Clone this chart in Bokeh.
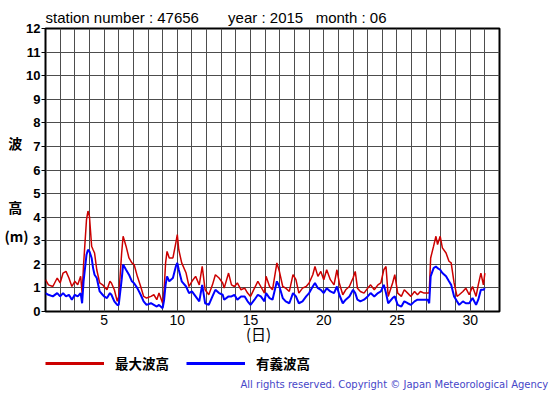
from bokeh.plotting import figure
from bokeh.models import Range1d, FixedTicker, Legend, LegendItem, LinearAxis, Label
from bokeh.layouts import column
from bokeh.embed import file_html
from bokeh.resources import INLINE
import numpy as np

# --- data ---
days = [1.0, 1.2, 1.5, 1.8, 2.0, 2.2, 2.4, 2.6, 2.8, 3.0, 3.2, 3.4, 3.5, 3.6, 3.8, 3.9, 4.0,
        4.15, 4.25, 4.35, 4.5, 4.7, 4.9, 5.0, 5.2, 5.4, 5.5, 5.7, 5.9, 6.0, 6.2, 6.3, 6.5,
        6.7, 6.9, 7.05, 7.27, 7.5, 7.7, 7.9, 8.2, 8.4, 8.6, 8.75, 9.0, 9.1, 9.2, 9.3, 9.45,
        9.7, 9.9, 10.0, 10.1, 10.3, 10.6, 10.8, 11.0, 11.25, 11.5, 11.7, 11.9, 12.15, 12.4,
        12.6, 12.85, 13.1, 13.2, 13.5, 13.7, 13.9, 14.1, 14.35, 14.6, 14.8, 15.0, 15.27,
        15.5, 15.7, 15.95, 16.06, 16.3, 16.5, 16.8, 16.97, 17.2, 17.4, 17.65, 17.9, 18.1,
        18.3, 18.55, 18.8, 19.0, 19.25, 19.4, 19.6, 19.8, 20.0, 20.2, 20.45, 20.7, 20.9,
        21.06, 21.3, 21.5, 21.75, 22.0, 22.15, 22.3, 22.5, 22.75, 23.0, 23.2, 23.45, 23.7,
        23.9, 24.1, 24.25, 24.4, 24.7, 24.85, 25.05, 25.3, 25.5, 25.73, 25.95, 26.2, 26.4,
        26.6, 26.85, 27.1, 27.2, 27.3, 27.5, 27.66, 27.77, 27.95, 28.1, 28.35, 28.55, 28.7,
        28.9, 29.1, 29.25, 29.5, 29.7, 29.93, 30.16, 30.4, 30.55, 30.73, 30.9, 31.0]

max_wave = [1.35, 1.13, 1.06, 1.42, 1.21, 1.63, 1.70, 1.42, 1.06, 1.28, 1.13, 1.49, 0.78, 1.99,
            3.90, 4.26, 4.04, 2.77, 2.62, 2.48, 1.77, 1.21, 1.13, 1.06, 0.92, 1.28, 1.21, 0.92,
            0.43, 0.64, 2.48, 3.19, 2.77, 2.27, 2.06, 1.99, 1.49, 1.06, 0.64, 0.57, 0.64, 0.71,
            0.50, 0.78, 0.35, 0.92, 2.06, 2.55, 2.27, 2.27, 2.91, 3.26, 2.62, 2.06, 1.63, 1.06,
            1.28, 1.49, 1.13, 1.91, 0.92, 0.71, 1.13, 1.56, 1.42, 1.21, 0.99, 1.63, 1.13, 1.06,
            1.21, 0.92, 0.99, 0.78, 0.64, 0.99, 1.28, 1.06, 0.78, 1.49, 1.06, 0.92, 2.06, 1.70,
            1.06, 0.99, 0.85, 1.56, 1.35, 0.78, 0.99, 1.06, 1.21, 1.56, 1.91, 1.49, 1.70, 1.35,
            1.77, 1.35, 1.13, 1.77, 1.21, 0.71, 0.92, 1.06, 1.42, 1.70, 0.99, 0.85, 0.78, 0.99,
            1.13, 0.92, 1.13, 1.21, 1.77, 1.91, 0.64, 1.21, 1.56, 0.78, 0.64, 0.92, 0.78, 0.64,
            0.85, 0.71, 0.85, 0.78, 0.78, 0.78, 2.27, 2.77, 3.19, 2.84, 3.19, 2.70, 2.48, 2.13,
            2.06, 1.21, 0.64, 0.71, 0.85, 0.99, 0.71, 1.06, 0.64, 1.13, 1.63, 1.13, 1.63]

sig_wave = [0.78, 0.71, 0.64, 0.78, 0.64, 0.78, 0.64, 0.71, 0.50, 0.71, 0.64, 0.78, 0.35, 1.28,
            2.41, 2.62, 2.55, 2.27, 1.84, 1.56, 1.42, 0.85, 0.71, 0.64, 0.57, 0.78, 0.71, 0.43,
            0.28, 0.28, 1.35, 1.99, 1.77, 1.56, 1.28, 1.20, 0.99, 0.71, 0.43, 0.28, 0.35, 0.28,
            0.21, 0.28, 0.14, 0.50, 1.13, 1.49, 1.28, 1.42, 1.91, 2.06, 1.77, 1.28, 1.06, 0.78,
            0.85, 0.64, 0.43, 1.13, 0.35, 0.28, 0.64, 0.92, 0.78, 0.71, 0.50, 0.64, 0.64, 0.71,
            0.50, 0.64, 0.64, 0.43, 0.28, 0.50, 0.71, 0.64, 0.43, 0.78, 0.57, 0.50, 1.28, 1.06,
            0.57, 0.43, 0.35, 0.78, 0.64, 0.35, 0.43, 0.64, 0.78, 1.06, 1.21, 0.99, 0.92, 0.78,
            0.99, 0.85, 0.78, 1.06, 0.71, 0.35, 0.50, 0.64, 0.92, 0.78, 0.50, 0.43, 0.50, 0.64,
            0.78, 0.64, 0.78, 0.85, 1.13, 0.78, 0.35, 0.57, 0.64, 0.28, 0.21, 0.43, 0.35, 0.28,
            0.43, 0.50, 0.50, 0.50, 0.50, 0.35, 1.49, 1.84, 1.91, 1.84, 1.77, 1.63, 1.49, 1.28,
            1.13, 0.64, 0.43, 0.28, 0.43, 0.35, 0.35, 0.57, 0.28, 0.50, 0.92, 0.92, 0.99]

x_tick_values = [5, 10, 15, 20, 25, 30]
x_grid_values = list(range(1, 33))
y_tick_values = list(range(0, 13))

NB = "\u00a0"
title_text = "station number : 47656" + NB * 7 + "year : 2015" + NB * 3 + "month : 06"
legend_labels = ["最大波高", "有義波高"]
y_label_parts = {7.15: "波" + NB * 2, 4.45: "高" + NB * 2, 3.2: "(m)"}
x_label_parts = {15.55: "(日)"}
copyright_text = "All rights reserved. Copyright © Japan Meteorological Agency"

RED = "#cc0000"
BLUE = "#0000ff"
SANS = "Liberation Sans"
CJK = "Noto Sans CJK JP"

# ---------------- main chart ----------------
p = figure(width=555, height=353, output_backend="svg", toolbar_location=None,
           x_range=Range1d(1, 32), y_range=Range1d(0, 12),
           min_border_left=45, min_border_right=56, min_border_top=28, min_border_bottom=42)
p.frame_align = False
p.background_fill_color = "white"
p.border_fill_color = "white"
p.outline_line_color = "black"
p.outline_line_width = 2
p.outline_line_alpha = 1.0

p.title.text = title_text
p.title.align = "left"
p.title.text_font = SANS
p.title.text_font_size = "15px"
p.title.text_font_style = "normal"
p.title.text_color = "black"
p.title.standoff = 6

p.xgrid.ticker = FixedTicker(ticks=x_grid_values)
p.ygrid.ticker = FixedTicker(ticks=y_tick_values)
for g in (p.xgrid, p.ygrid):
    g.grid_line_color = "#4d4d4d"
    g.grid_line_width = 1
    g.grid_line_alpha = 1.0

p.xaxis.ticker = FixedTicker(ticks=x_tick_values)
p.xaxis.axis_line_color = None
p.xaxis.major_tick_line_color = None
p.xaxis.minor_tick_line_color = None
p.xaxis.major_tick_out = 0
p.xaxis.major_tick_in = 0
p.xaxis.major_label_standoff = 3
p.xaxis.major_label_text_font = SANS
p.xaxis.major_label_text_font_size = "14px"
p.xaxis.major_label_text_color = "black"

p.yaxis.ticker = FixedTicker(ticks=y_tick_values)
p.yaxis.axis_line_color = None
p.yaxis.minor_tick_line_color = None
p.yaxis.major_tick_line_color = "black"
p.yaxis.major_tick_out = 4
p.yaxis.major_tick_in = 0
p.yaxis.major_label_standoff = 1
p.yaxis.major_label_text_font = SANS
p.yaxis.major_label_text_font_size = "13px"
p.yaxis.major_label_text_font_style = "bold"
p.yaxis.major_label_text_color = "black"

# y-axis caption: an extra axis with horizontal labels
ylab = LinearAxis(ticker=FixedTicker(ticks=list(y_label_parts.keys())),
                  major_label_overrides=y_label_parts)
ylab.axis_line_color = None
ylab.major_tick_line_color = None
ylab.minor_tick_line_color = None
ylab.major_tick_out = 0
ylab.major_tick_in = 0
ylab.major_label_standoff = -5
ylab.major_label_text_font = CJK
ylab.major_label_text_font_size = "14px"
ylab.major_label_text_font_style = "bold"
ylab.major_label_text_color = "black"
p.add_layout(ylab, "left")

# x-axis caption: an extra axis
xlab = LinearAxis(ticker=FixedTicker(ticks=list(x_label_parts.keys())),
                  major_label_overrides=x_label_parts)
xlab.axis_line_color = None
xlab.major_tick_line_color = None
xlab.minor_tick_line_color = None
xlab.major_tick_out = 0
xlab.major_tick_in = 0
xlab.major_label_standoff = -5
xlab.major_label_text_font = CJK
xlab.major_label_text_font_size = "15px"
xlab.major_label_text_color = "black"
p.add_layout(xlab, "below")

p.line(days, max_wave, line_color=RED, line_width=1.5)
p.line(days, sig_wave, line_color=BLUE, line_width=2)

# ---------------- legend / credit strip ----------------
p2 = figure(width=555, height=42, output_backend="svg", toolbar_location=None,
            x_range=Range1d(0, 555), y_range=Range1d(0, 42),
            min_border_left=0, min_border_right=0, min_border_top=0, min_border_bottom=0,
            x_axis_type=None, y_axis_type=None)
p2.frame_align = False
p2.outline_line_color = None
p2.background_fill_color = "white"
p2.border_fill_color = "white"
p2.grid.visible = False

r_leg = p2.line([np.nan, np.nan], [np.nan, np.nan], line_color=RED, line_width=3)
b_leg = p2.line([np.nan, np.nan], [np.nan, np.nan], line_color=BLUE, line_width=3)
legend = Legend(items=[LegendItem(label=legend_labels[0], renderers=[r_leg]),
                       LegendItem(label=legend_labels[1], renderers=[b_leg])],
                orientation="horizontal", location=(45, 22),
                glyph_width=59, glyph_height=14, label_standoff=11, spacing=17,
                padding=0, margin=0, border_line_alpha=0, background_fill_alpha=0,
                label_text_font=CJK, label_text_font_size="13.5px",
                label_text_font_style="bold", label_text_color="black")
p2.add_layout(legend)

p2.add_layout(Label(x=240, y=11, x_units="screen", y_units="screen", text=copyright_text,
                    text_font="DejaVu Sans", text_font_size="10px", text_baseline="middle",
                    text_align="left", text_color="#4646c8"))

layout = column(p, p2, spacing=0)
open("out.html", "w").write(file_html(layout, INLINE))
